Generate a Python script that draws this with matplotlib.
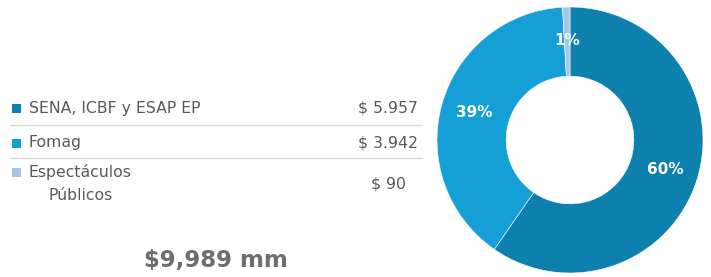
import matplotlib.pyplot as plt

# Datos (miles de millones)
categorias = ["SENA, ICBF y ESAP EP", "Fomag", "Espectáculos\n    Públicos"]
valores = [5957, 3942, 90]
etiquetas_valor = ["$ 5.957", "$ 3.942", "$ 90"]
total_texto = "$9,989 mm"

colores = ["#0E80AD", "#149FD7", "#A3C6E5"]
GRIS = "#595959"

plt.rcParams["font.family"] = ["DejaVu Sans"]

fig = plt.figure(figsize=(7.11, 2.77), dpi=100)

# Eje de fondo en coordenadas de pixel
ax = fig.add_axes([0, 0, 1, 1])
ax.set_xlim(0, 711)
ax.set_ylim(277, 0)
ax.axis("off")

filas_y = [108, 143, 184]
for i, (cat, val, col) in enumerate(zip(categorias, etiquetas_valor, colores)):
    y = filas_y[i]
    y_texto = y if i < 2 else 172
    ax.add_patch(plt.Rectangle((12, y_texto - 4.5), 9, 9, color=col, lw=0))
    if i < 2:
        ax.text(29, y, cat, fontsize=11.3, color=GRIS, va="center", ha="left")
    else:
        ax.text(29, 172, "Espectáculos", fontsize=11.3, color=GRIS, va="center", ha="left")
        ax.text(49, 195, "Públicos", fontsize=11.3, color=GRIS, va="center", ha="left")
    ax.text(388, y, val, fontsize=11.3, color=GRIS, va="center", ha="center")

for y in [125, 158]:
    ax.plot([10, 422], [y, y], color="#D9D9D9", lw=1)

ax.text(216, 261, total_texto, fontsize=16.5, fontweight="bold", color="#6E6E6E",
        va="center", ha="center")

# Dona
cx, cy, r = 570, 140, 133
ax_pie = fig.add_axes([(cx - r) / 711, (277 - cy - r) / 277, 2 * r / 711, 2 * r / 277])
wedges, _, textos = ax_pie.pie(
    valores,
    colors=colores,
    startangle=90,
    counterclock=False,
    autopct="%.0f%%",
    pctdistance=0.75,
    wedgeprops=dict(width=0.52, edgecolor="white", linewidth=0.4),
)
for t in textos:
    t.set_color("white")
    t.set_fontsize(11)
    t.set_fontweight("bold")
ax_pie.set_xlim(-1, 1)
ax_pie.set_ylim(-1, 1)
ax_pie.set_aspect("equal")

plt.savefig("out.png", dpi=100)
